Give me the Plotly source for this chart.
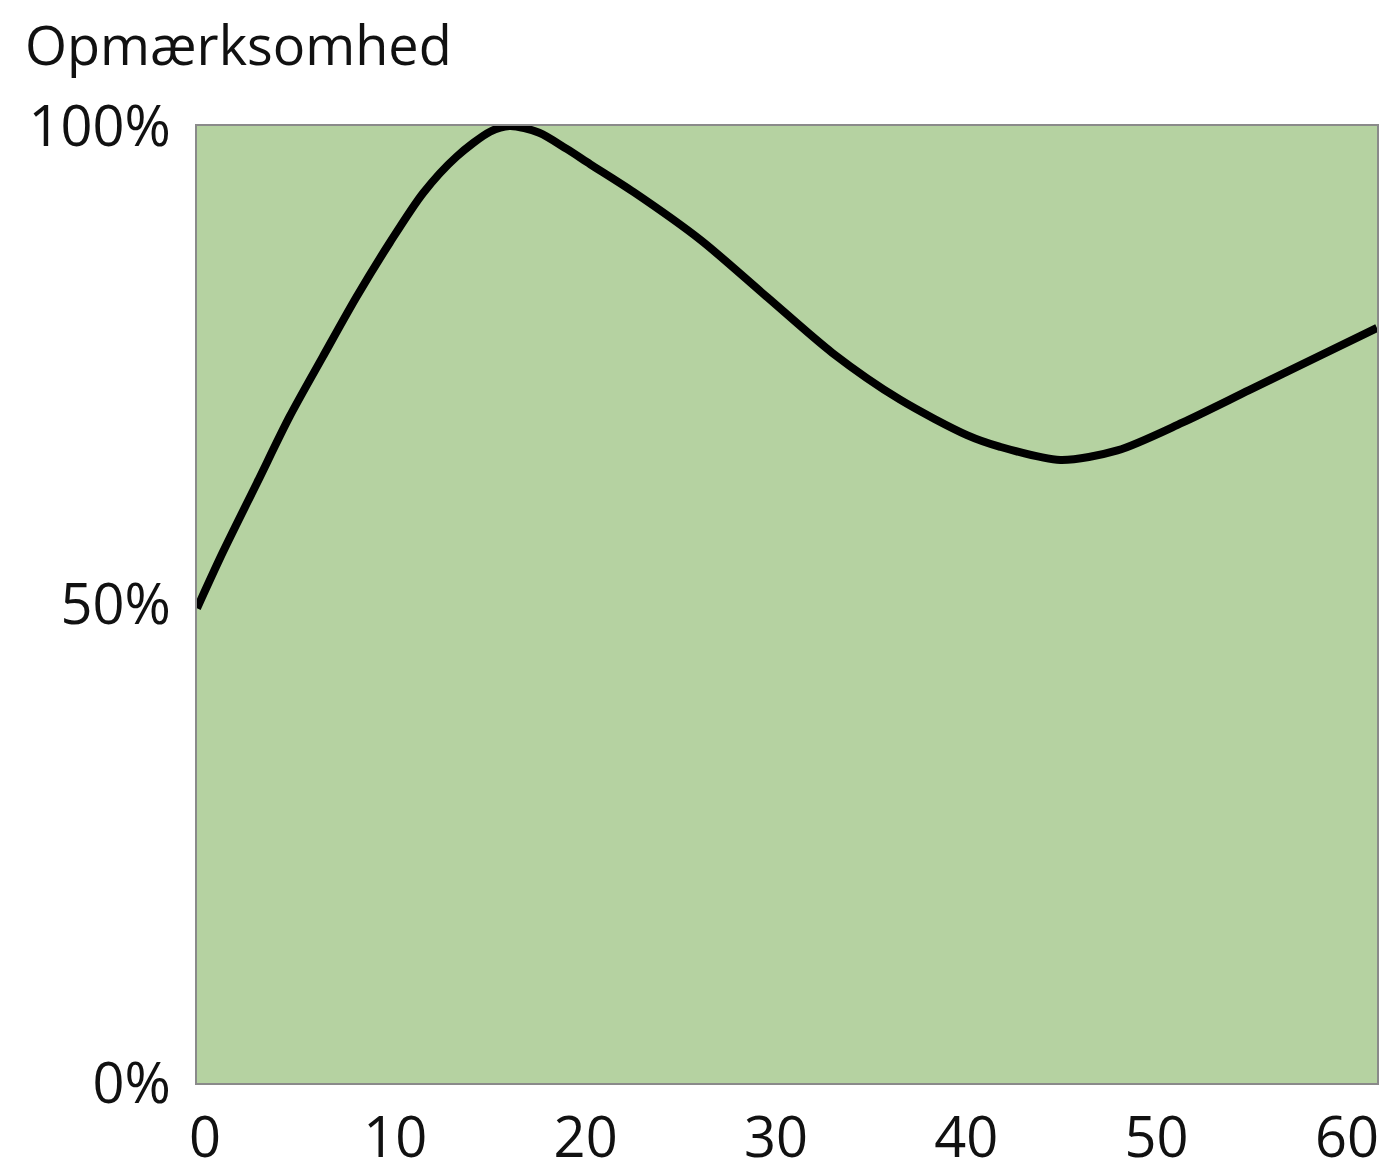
import plotly.graph_objects as go

# Data (time vs attention, %)
time_min = [0, 1.3, 3.05, 4.7, 6.4, 8.1, 9.8, 11.5, 13.2, 14.9, 15.9, 17.4, 18.8, 20.0,
            22.2, 25.6, 29.0, 32.3, 35.75, 39.15, 40.8, 43.9, 46.8, 50.1, 53.5, 57.0, 60]
attention = [49.6, 55.4, 62.7, 69.6, 75.9, 82.1, 87.8, 93.0, 96.8, 99.4, 100, 99.3, 97.6, 96.0,
             93.1, 88.1, 82.1, 76.3, 71.4, 67.7, 66.5, 65.1, 66.1, 69.0, 72.4, 75.9, 78.9]

x_ticks = [0, 10, 20, 30, 40, 50, 60]
y_ticks = [0, 50, 100]
y_tick_labels = ["0%", "50%", "100%"]
title_text = "Opmærksomhed"

FONT = "Open Sans"
W, H = 1376, 1166  # page body has an 8px margin

fig = go.Figure()
fig.add_trace(go.Scatter(
    x=time_min, y=attention, mode="lines",
    line=dict(color="black", width=8, shape="spline", smoothing=0.8),
    hoverinfo="skip", showlegend=False, cliponaxis=False,
))
# carrier for the tick-label axis
fig.add_trace(go.Scatter(
    x=[x_ticks[0], x_ticks[-1]], y=[0, 0], xaxis="x2", mode="markers",
    marker=dict(opacity=0, size=1), hoverinfo="skip", showlegend=False,
))

fig.update_layout(
    width=W, height=H,
    margin=dict(l=189, r=7, t=118, b=91, autoexpand=False),
    paper_bgcolor="white",
    plot_bgcolor="#b5d2a1",
    font=dict(family=FONT, size=56, color="#111111"),
    title=dict(text=title_text, xref="container", yref="container",
               x=17 / W, xanchor="left", y=1 - 19 / H, yanchor="top",
               font=dict(family=FONT, size=54, color="#111111"), pad=dict(l=0, t=0),
               automargin=False),
    xaxis=dict(range=[0, 60], showgrid=False, zeroline=False, showticklabels=False,
               showline=True, linecolor="#8a8a8a", linewidth=2, mirror=True, ticks="",
               automargin=False),
    xaxis2=dict(range=[-0.42, 61.58], overlaying="x", anchor="y", side="bottom",
                tickvals=x_ticks, showgrid=False, zeroline=False, showline=False,
                ticks="", ticklabelstandoff=17, automargin=False,
                tickfont=dict(family=FONT, size=56, color="#111111")),
    yaxis=dict(range=[0, 100], tickvals=y_ticks, ticktext=y_tick_labels,
               showgrid=False, zeroline=False, ticks="", ticklabelstandoff=13,
               showline=True, linecolor="#8a8a8a", linewidth=2, mirror=True,
               automargin=False,
               tickfont=dict(family=FONT, size=56, color="#111111")),
)

fig.write_html("out.html")
